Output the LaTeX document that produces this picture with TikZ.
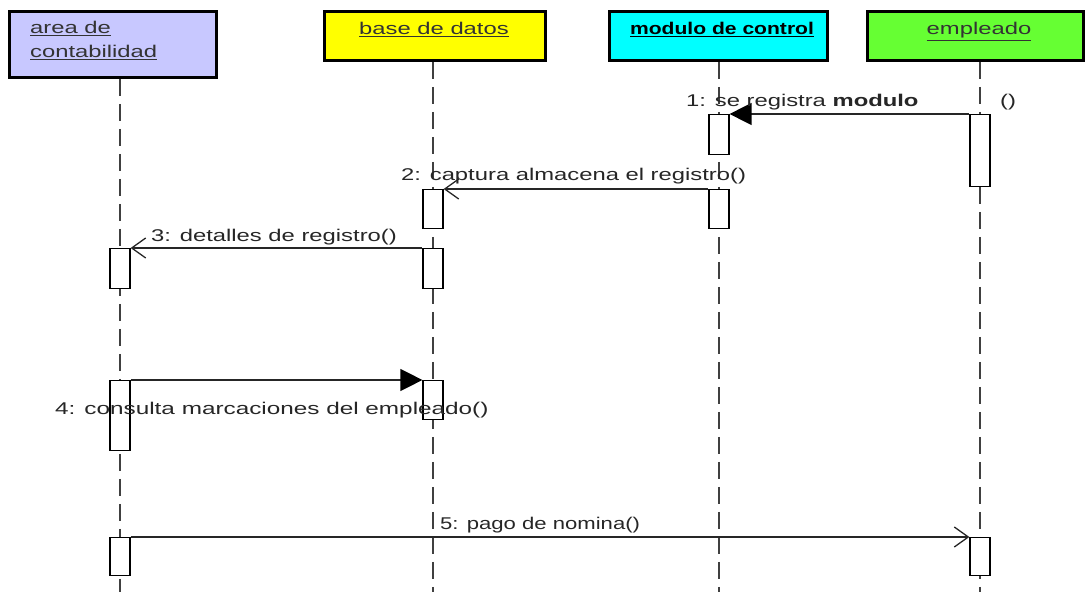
\documentclass[tikz,border=0pt]{standalone}
\usepackage{fontspec}
\setmainfont{Liberation Sans}
\usepackage{graphicx}
\usetikzlibrary{arrows.meta}
\newcommand\ancho[2][1.4]{\scalebox{#1}[1]{#2}}

\begin{document}
\begin{tikzpicture}[x=1pt,y=-1pt,font=\fontsize{17}{20}\selectfont,
  cabeza/.style={draw=black,line width=2.8pt,anchor=north west,inner sep=0pt},
  titulo/.style={anchor=base,text=black!80,inner sep=0pt},
  vida/.style={draw=black!75,line width=1.5pt,dash pattern=on 17pt off 8pt},
  activ/.style={draw=black,fill=white,line width=1.2pt,minimum width=20pt,inner sep=0pt,anchor=north},
  etiq/.style={anchor=base west,text=black!85,inner sep=0pt},
  sinc/.style={draw=black!85,line width=1.3pt,-{Triangle[length=22pt,width=22pt,color=black]}},
  asinc/.style={draw=black!85,line width=1.3pt,-{Straight Barb[length=14pt,width=20pt]}}]
\definecolor{lila}{RGB}{200,200,255}
\definecolor{amarillo}{RGB}{255,255,0}
\definecolor{cian}{RGB}{0,255,255}
\definecolor{verde}{RGB}{102,255,51}
\useasboundingbox (0,0) rectangle (1089,593);

% objetos
\node[cabeza,fill=lila,minimum width=207pt,minimum height=66pt] (area) at (8,10) {};
\node[cabeza,fill=amarillo,minimum width=221pt,minimum height=49pt] (base) at (323,10) {};
\node[cabeza,fill=cian,minimum width=218pt,minimum height=49pt] (modulo) at (608,10) {};
\node[cabeza,fill=verde,minimum width=216pt,minimum height=49pt] (empleado) at (866,10) {};

\node[titulo,anchor=base west] (tA1) at (30,34) {\ancho{\underline{area de}}};
\node[titulo,anchor=base west] (tA2) at (30,58) {\ancho{\underline{contabilidad}}};
\node[titulo] (tB) at (434,35) {\ancho{\underline{base de datos}}};
\node[titulo,text=black] (tM) at (722,35) {\ancho[1.24]{\underline{\textbf{modulo de control}}}};
\node[titulo] (tE) at (979,35) {\ancho{\underline{empleado}}};

% lineas de vida
\coordinate (finA) at (120,592);
\coordinate (finB) at (433,592);
\coordinate (finM) at (719,592);
\coordinate (finE) at (980,592);
\draw[vida] (area.south -| finA) -- (finA);
\draw[vida] (base.south -| finB) -- (finB);
\draw[vida] (modulo.south -| finM) -- (finM);
\draw[vida] (empleado.south -| finE) -- (finE);

% activaciones
\node[activ,minimum height=40pt] (m1) at (719,114) {};
\node[activ,minimum height=39pt] (m2) at (719,189) {};
\node[activ,minimum height=72pt] (e1) at (980,114) {};
\node[activ,minimum height=38pt] (e2) at (980,537) {};
\node[activ,minimum height=39pt] (b1) at (433,189) {};
\node[activ,minimum height=40pt] (b2) at (433,248) {};
\node[activ,minimum height=39pt] (b3) at (433,380) {};
\node[activ,minimum height=40pt] (a1) at (120,248) {};
\node[activ,minimum height=70pt] (a2) at (120,380) {};
\node[activ,minimum height=38pt] (a3) at (120,537) {};

% mensajes
\draw[sinc] (e1.north west) -- (m1.north east);
\draw[asinc] (m2.north west) -- (b1.north east);
\draw[asinc] (b2.north west) -- (a1.north east);
\draw[sinc] (a2.north east) -- (b3.north west);
\draw[asinc] (a3.north east) -- (e2.north west);

\node[etiq] (t1) at (686,107) {\ancho{1: se registra \textbf{modulo}}};
\node[etiq] (t1b) at (1000,107) {\ancho{()}};
\node[etiq] (t2) at (401,181) {\ancho{2: captura almacena el registro()}};
\node[etiq] (t3) at (151,242) {\ancho{3: detalles de registro()}};
\node[etiq] (t4) at (55,414) {\ancho[1.43]{4: consulta marcaciones del empleado()}};
\node[etiq] (t5) at (440,529) {\ancho[1.3]{5: pago de nomina()}};
\end{tikzpicture}
\end{document}
